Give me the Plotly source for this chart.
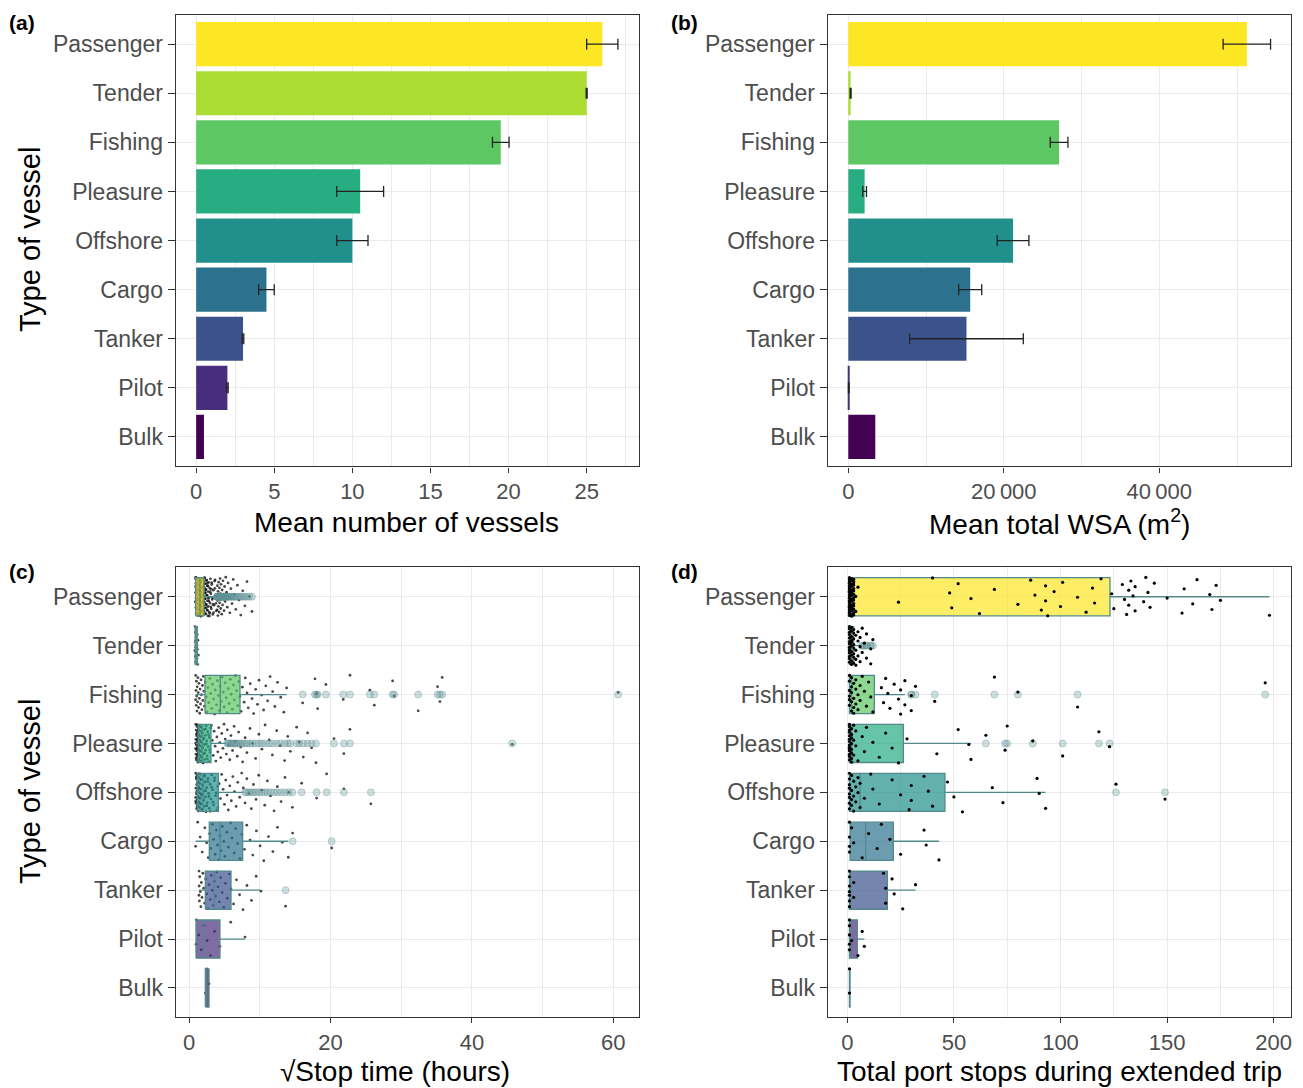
import plotly.graph_objects as go

W, H = 1303, 1088
FONT = "Liberation Sans, Arial, Helvetica, sans-serif"

vessel_types = ["Passenger", "Tender", "Fishing", "Pleasure", "Offshore",
                "Cargo", "Tanker", "Pilot", "Bulk"]
viridis = ["#FDE725", "#AADC32", "#5DC863", "#27AD81", "#21908C",
           "#2C728E", "#3B528B", "#472D7B", "#440154"]

# (a) mean number of vessels present, with standard error (None = no error bar)
mean_vessels = [26.0, 25.0, 19.5, 10.5, 10.0, 4.5, 3.0, 2.0, 0.5]
mean_vessels_se = [1.0, 0.03, 0.53, 1.5, 1.0, 0.5, 0.05, 0.05, None]

# (b) mean total wetted surface area (m2), with standard error
mean_wsa = [51260, 300, 27110, 2100, 21190, 15680, 15200, 60, 3470]
mean_wsa_se = [3050, 60, 1140, 235, 2040, 1480, 7310, 40, None]

# (c) square-root stop time (hours): box statistics per vessel type
stop_q1 = [0.94, 0.86, 2.26, 1.32, 1.18, 2.87, 2.31, 0.99, 2.31]
stop_median = [1.55, 1.0, 4.43, 1.9, 2.0, 4.38, 3.58, 2.12, 2.5]
stop_q3 = [2.12, 1.17, 7.21, 3.11, 4.15, 7.59, 5.94, 4.38, 2.83]
stop_low = [0.9, 0.82, 0.94, 0.94, 0.94, 0.94, 1.41, 0.99, 2.31]
stop_high = [3.9, 1.34, 13.8, 5.3, 7.7, 14.04, 10.18, 7.92, 2.83]

# (c) individual stops (inside the whiskers) and outlying stops
stop_passenger = [
    0.91, 0.93, 0.94, 0.97, 0.99, 1.01, 1.03, 1.06, 1.07, 1.09, 1.12, 1.14, 1.15, 1.18, 1.21, 1.22, 1.24, 1.27, 1.29, 1.31,
    1.33, 1.35, 1.38, 1.39, 1.42, 1.44, 1.46, 1.49, 1.51, 1.53, 1.56, 1.58, 1.6, 1.63, 1.64, 1.67, 1.7, 1.71, 1.74, 1.77,
    1.79, 1.81, 1.84, 1.86, 1.89, 1.92, 1.93, 1.96, 1.99, 2.02, 2.04, 2.07, 2.1, 2.12, 2.15, 2.18, 2.21, 2.23, 2.27, 2.3,
    2.33, 2.36, 2.4, 2.43, 2.47, 2.5, 2.54, 2.57, 2.61, 2.65, 2.69, 2.73, 2.78, 2.82, 2.87, 2.92, 2.97, 3.03, 3.09, 3.15,
    3.22, 3.29, 3.37, 3.45, 3.54, 3.63, 3.74, 3.86,
    0.92, 0.96, 1.0, 1.04, 1.08, 1.11, 1.16, 1.2, 1.25, 1.28, 1.32, 1.37, 1.41, 1.45, 1.5, 1.55, 1.59, 1.65, 1.69, 1.75,
    1.8, 1.85, 1.91, 1.97, 2.03, 2.09, 2.16, 2.22, 2.29, 2.35, 2.42, 2.49, 2.56, 2.63, 2.71, 2.8, 2.89, 2.99, 3.1, 3.21,
    3.34, 3.48, 3.66, 3.81,
    0.95, 1.02, 1.1, 1.17, 1.26, 1.34, 1.43, 1.52, 1.61, 1.72, 1.83, 1.94, 2.05, 2.19, 2.32, 2.45, 2.59, 2.75, 2.94, 3.13,
    3.4, 3.7,
]
stop_passenger_out = [
    3.93, 3.97, 4.01, 4.04, 4.08, 4.11, 4.15, 4.19, 4.22, 4.26, 4.3, 4.34, 4.39, 4.43, 4.48, 4.53, 4.58, 4.63, 4.69, 4.75,
    4.81, 4.88, 4.95, 5.03, 5.11, 5.2, 5.3, 5.41, 5.52, 5.65, 5.78, 5.92, 6.08, 6.25, 6.43, 6.62, 6.84, 7.07, 7.32, 7.6,
    7.9, 8.2, 8.55, 8.9,
]
stop_tender = [0.83, 0.86, 0.88, 0.9, 0.93, 0.95, 0.98, 1.0, 1.03, 1.06, 1.09, 1.12, 1.15, 1.18, 1.22, 1.27, 1.33]
stop_tender_out = []
stop_fishing = [
    0.94, 0.95, 0.98, 1.02, 1.05, 1.09, 1.13, 1.16, 1.21, 1.26, 1.3, 1.35, 1.41, 1.46, 1.52, 1.57, 1.63, 1.7, 1.76, 1.83,
    1.9, 1.96, 2.04, 2.11, 2.19,
    2.31, 2.44, 2.53, 2.68, 2.79, 2.95, 3.06, 3.21, 3.33, 3.47, 3.62, 3.71, 3.88, 4.02, 4.16, 4.27, 4.41, 4.56, 4.69, 4.85,
    4.97, 5.12, 5.26, 5.39, 5.55, 5.68, 5.84, 5.97, 6.13, 6.29, 6.41, 6.58, 6.72, 6.9, 7.06, 7.18,
    7.37, 7.54, 7.79, 7.96, 8.21, 8.38, 8.66, 8.92, 9.14, 9.43, 9.68, 9.9, 10.27, 10.55, 10.86, 11.12, 11.47, 11.83, 12.14,
    12.52, 12.97, 13.41, 13.8,
]
stop_fishing_out = [16.07, 17.81, 18.05, 18.19, 19.36, 21.81, 22.76, 25.58, 26.2, 28.79, 29.03, 32.41,
                    35.15, 35.48, 35.8, 60.68]
stop_pleasure = [
    0.94, 0.95, 0.97, 0.99, 1.01, 1.04, 1.06, 1.08, 1.11, 1.13, 1.16, 1.18, 1.21, 1.23, 1.26, 1.29, 1.31, 1.34, 1.37, 1.4,
    1.43, 1.46, 1.49, 1.52, 1.55, 1.59, 1.62, 1.66, 1.69, 1.73, 1.77, 1.81, 1.85, 1.89, 1.94, 1.98, 2.03, 2.08, 2.13, 2.19,
    2.24, 2.3, 2.36, 2.43, 2.5, 2.57, 2.64, 2.72, 2.8, 2.88, 2.97, 3.06,
    0.96, 1.0, 1.05, 1.1, 1.15, 1.2, 1.25, 1.3, 1.36, 1.42, 1.48, 1.54, 1.61, 1.68, 1.75, 1.83, 1.91, 2.0, 2.1, 2.21,
    2.33, 2.46, 2.6, 2.76, 2.93,
    3.17, 3.3, 3.42, 3.55, 3.69, 3.8, 3.94, 4.07, 4.2, 4.36, 4.49, 4.63, 4.8, 4.95, 5.12, 5.28,
]
stop_pleasure_out = [5.42, 5.58, 5.77, 5.93, 6.16, 6.38, 6.55, 6.83, 7.02, 7.31, 7.58, 7.94, 8.19, 8.63, 8.97, 9.42,
                     9.88, 10.31, 10.76, 11.34, 11.79, 12.41, 12.88, 13.52, 13.97, 14.33, 15.22, 15.6, 16.16, 16.77,
                     17.34, 17.95, 20.5, 21.9, 22.76, 45.7]
stop_offshore = [
    0.94, 0.96, 0.98, 1.0, 1.03, 1.05, 1.08, 1.1, 1.13, 1.16, 1.19, 1.22, 1.25, 1.28, 1.31, 1.35, 1.38, 1.42, 1.46, 1.5,
    1.54, 1.58, 1.63, 1.67, 1.72, 1.77, 1.82, 1.88, 1.93, 1.99, 2.05, 2.12, 2.19, 2.26, 2.33, 2.41, 2.49, 2.58, 2.67, 2.77,
    2.87, 2.98, 3.09, 3.21, 3.34, 3.47, 3.61, 3.76, 3.92, 4.08,
    0.95, 1.01, 1.07, 1.14, 1.21, 1.29, 1.37, 1.45, 1.55, 1.65, 1.75, 1.86, 1.97, 2.09, 2.22, 2.36, 2.51, 2.66, 2.83, 3.01,
    3.2, 3.4, 3.62, 3.85, 4.1,
    4.27, 4.45, 4.62, 4.83, 5.01, 5.19, 5.38, 5.56, 5.77, 5.98, 6.2, 6.43, 6.66, 6.9, 7.17, 7.45, 7.68,
]
stop_offshore_out = [7.93, 8.18, 8.47, 8.81, 9.12, 9.48, 9.86, 10.29, 10.71, 11.08, 11.52, 12.03, 12.49, 13.02,
                     13.57, 14.11, 14.62, 15.93, 18.05, 19.46, 21.9, 25.72]
stop_cargo = [0.94, 1.23, 1.58, 1.87, 2.24, 2.49, 2.73, 2.91, 3.08, 3.32, 3.47, 3.71, 3.86, 4.03, 4.18, 4.37, 4.52,
              4.71, 4.93, 5.08, 5.36, 5.57, 5.88, 6.07, 6.39, 6.62, 6.87, 7.21, 7.48, 7.83, 8.17, 8.64, 9.02, 9.53,
              10.06, 10.58, 11.24, 11.87, 12.52, 13.19, 14.04]
stop_cargo_out = [14.65, 20.17]
stop_tanker = [1.41, 1.42, 1.44, 1.47, 1.52, 1.6, 1.68, 1.75, 1.84, 1.96, 2.08, 2.22, 2.35, 2.51, 2.67, 2.83, 3.0,
               3.14, 3.29, 3.46, 3.58, 3.74, 3.92, 4.1, 4.29, 4.48, 4.69, 4.92, 5.16, 5.43, 5.71, 5.94, 6.3, 6.72,
               7.15, 7.63, 8.2, 8.84, 9.5, 10.18]
stop_tanker_out = [13.66]
stop_pilot = [0.99, 1.04, 1.38, 1.72, 2.12, 2.55, 3.04, 3.61, 4.38, 5.9, 7.92]
stop_pilot_out = []
stop_bulk = [2.31, 2.5, 2.83]
stop_bulk_out = []

# (d) total port stops during extended trip: box statistics per vessel type
ports_q1 = [1, 1, 1, 1, 1, 1.3, 1, 1, 1]
ports_median = [3, 2, 2, 2, 6, 8.6, 1.2, 1.3, 1]
ports_q3 = [123.2, 3, 12.7, 26.3, 45.8, 21.6, 18.8, 4.7, 1.3]
ports_low = [1, 1, 1, 1, 1, 1, 1, 1, 1]
ports_high = [198, 6, 27, 58, 93, 43, 32, 8, 1.3]

# (d) individual trips (inside the whiskers) and outlying trips
ports_passenger = [
    1, 1, 1, 1, 1, 1, 1, 1, 1, 1, 1, 1, 1, 1, 1, 1, 1, 1, 1, 1, 1, 1,
    2, 2, 2, 2, 2, 2, 2, 2, 2, 2, 2, 2, 2, 2, 2, 2,
    3, 3, 3, 3, 3, 3, 3, 3, 3, 3, 3, 3, 3, 3,
    4, 4, 5, 24, 40, 48, 49, 52, 58, 62, 69, 80, 86, 88, 91, 93, 93, 94, 97, 100, 101, 108, 112, 115, 116, 119,
    124, 125, 129, 130, 131, 132, 132, 133, 134, 135, 135, 139, 140, 141, 142, 144, 150, 157, 158, 162, 164,
    170, 171, 173, 175, 198,
]
ports_passenger_out = []
ports_tender = [1, 1, 1, 1, 1, 1, 1, 1, 1, 1, 1, 1, 1, 1, 2, 2, 2, 2, 2, 2, 2, 2, 2, 2,
                3, 3, 3, 3, 3, 3, 3, 3, 4, 4, 4, 4, 5, 5, 5, 6, 6, 6]
ports_tender_out = [7, 7, 8, 9, 9, 11, 11, 12]
ports_fishing = [1, 1, 1, 1, 1, 1, 2, 2, 2, 2, 2, 3, 3, 3, 3, 4, 4, 4, 5, 5, 6, 6, 7, 8, 9, 10, 11, 12,
                 16, 17, 18, 19, 20, 22, 24, 25, 25, 27, 27]
ports_fishing_out = [30, 30, 32, 41, 69, 80, 108, 196]
ports_pleasure = [1, 1, 1, 1, 1, 1, 1, 1, 1, 1, 1, 1, 1, 1, 2, 2, 2, 2, 2, 2, 2, 2, 3, 3, 3, 4, 4,
                  5, 7, 8, 9, 12, 15, 18, 21, 24, 28, 42, 52, 57, 58]
ports_pleasure_out = [65, 74, 75, 87, 101, 118, 123]
ports_offshore = [1, 1, 1, 1, 1, 1, 1, 1, 2, 2, 2, 2, 3, 3, 3, 4, 4, 5, 5, 6, 6, 8, 11, 12, 15, 21, 25, 29, 30, 30,
                  36, 38, 40, 47, 50, 54, 68, 73, 89, 90, 93]
ports_offshore_out = [126, 149]
ports_cargo = [1, 1, 1, 1, 2, 3, 7, 10, 14, 16, 20, 25, 36, 37, 43]
ports_cargo_out = []
ports_tanker = [1, 1, 1, 1, 1, 1, 1, 3, 3, 17, 18, 18, 21, 22, 26, 32]
ports_tanker_out = []
ports_pilot = [1, 1, 1, 1, 1, 2, 5, 7, 8]
ports_pilot_out = []
ports_bulk = [1, 1]
ports_bulk_out = []

stop_inliers = [stop_passenger, stop_tender, stop_fishing, stop_pleasure, stop_offshore,
                stop_cargo, stop_tanker, stop_pilot, stop_bulk]
stop_outliers = [stop_passenger_out, stop_tender_out, stop_fishing_out, stop_pleasure_out, stop_offshore_out,
                 stop_cargo_out, stop_tanker_out, stop_pilot_out, stop_bulk_out]
ports_inliers = [ports_passenger, ports_tender, ports_fishing, ports_pleasure, ports_offshore,
                 ports_cargo, ports_tanker, ports_pilot, ports_bulk]
ports_outliers = [ports_passenger_out, ports_tender_out, ports_fishing_out, ports_pleasure_out, ports_offshore_out,
                  ports_cargo_out, ports_tanker_out, ports_pilot_out, ports_bulk_out]

# ---- styling ----
n_types = len(vessel_types)
positions = [n_types - i for i in range(n_types)]  # Passenger on top
BOX_LINE = "#52898c"
OUTLIER_FILL = "rgba(96,146,150,0.30)"
OUTLIER_EDGE = "rgba(96,146,150,0.45)"
BOX_HALF = 0.39
GRID = "#ebebeb"
AXIS = "#333333"
TICK_TEXT = "#4d4d4d"


def rgba(hex_color, alpha):
    h = hex_color.lstrip("#")
    r, g, b = int(h[0:2], 16), int(h[2:4], 16), int(h[4:6], 16)
    return f"rgba({r},{g},{b},{alpha})"


def jitter_offsets(n, spread=0.4):
    # deterministic vertical spread of points within a category band
    return [((k * 0.6180339887 + 0.37) % 1.0 - 0.5) * 2 * spread for k in range(n)]


def error_trace(means, errors, xaxis, yaxis):
    # error bars only where a standard error exists
    xs = [m if e is not None else None for m, e in zip(means, errors)]
    es = [e if e is not None else 0 for e in errors]
    return go.Scatter(
        x=xs, y=positions, mode="markers", marker=dict(size=0.1, opacity=0),
        error_x=dict(type="data", array=es, color="#222222", thickness=1.3, width=5.5),
        xaxis=xaxis, yaxis=yaxis, hoverinfo="skip", showlegend=False)


fig = go.Figure()

# ---- (a) bars ----
fig.add_trace(go.Bar(
    x=mean_vessels, y=positions, orientation="h", width=0.9,
    marker=dict(color=viridis, line=dict(width=0)),
    xaxis="x", yaxis="y", hoverinfo="skip", showlegend=False))
fig.add_trace(error_trace(mean_vessels, mean_vessels_se, "x", "y"))

# ---- (b) bars ----
fig.add_trace(go.Bar(
    x=mean_wsa, y=positions, orientation="h", width=0.9,
    marker=dict(color=viridis, line=dict(width=0)),
    xaxis="x2", yaxis="y2", hoverinfo="skip", showlegend=False))
fig.add_trace(error_trace(mean_wsa, mean_wsa_se, "x2", "y2"))

# ---- (c) jittered stops underneath translucent boxes ----
for i in range(n_types):
    vals = stop_inliers[i] + stop_outliers[i]
    offs = jitter_offsets(len(vals))
    fig.add_trace(go.Scatter(
        x=vals, y=[positions[i] + o for o in offs], mode="markers",
        marker=dict(size=2.8, color="rgba(0,0,0,0.72)", line=dict(width=0)),
        xaxis="x3", yaxis="y3", hoverinfo="skip", showlegend=False))

for i in range(n_types):
    p = positions[i]
    q1, md, q3, lo, hi = stop_q1[i], stop_median[i], stop_q3[i], stop_low[i], stop_high[i]
    xs = [q1, q3, q3, q1, q1, None, md, md, None, lo, q1, None, q3, hi]
    ys = [p - BOX_HALF, p - BOX_HALF, p + BOX_HALF, p + BOX_HALF, p - BOX_HALF, None,
          p - BOX_HALF, p + BOX_HALF, None, p, p, None, p, p]
    fig.add_trace(go.Scatter(
        x=xs, y=ys, mode="lines", fill="toself", fillcolor=rgba(viridis[i], 0.7),
        line=dict(color=BOX_LINE, width=1.3),
        xaxis="x3", yaxis="y3", hoverinfo="skip", showlegend=False))

for i in range(n_types):
    if stop_outliers[i]:
        fig.add_trace(go.Scatter(
            x=stop_outliers[i], y=[positions[i]] * len(stop_outliers[i]), mode="markers",
            marker=dict(size=7, color=OUTLIER_FILL, line=dict(width=0.8, color=OUTLIER_EDGE)),
            xaxis="x3", yaxis="y3", hoverinfo="skip", showlegend=False))

# ---- (d) boxes with jittered trips on top ----
for i in range(n_types):
    fig.add_trace(go.Box(
        y=[positions[i]], q1=[ports_q1[i]], median=[ports_median[i]], q3=[ports_q3[i]],
        lowerfence=[ports_low[i]], upperfence=[ports_high[i]],
        orientation="h", width=2 * BOX_HALF, whiskerwidth=0, boxpoints=False,
        fillcolor=rgba(viridis[i], 0.7), line=dict(color=BOX_LINE, width=1.3),
        xaxis="x4", yaxis="y4", hoverinfo="skip", showlegend=False))

for i in range(n_types):
    if ports_outliers[i]:
        fig.add_trace(go.Scatter(
            x=ports_outliers[i], y=[positions[i]] * len(ports_outliers[i]), mode="markers",
            marker=dict(size=7, color=OUTLIER_FILL, line=dict(width=0.8, color=OUTLIER_EDGE)),
            xaxis="x4", yaxis="y4", hoverinfo="skip", showlegend=False))

for i in range(n_types):
    vals = ports_inliers[i] + ports_outliers[i]
    offs = jitter_offsets(len(vals))
    fig.add_trace(go.Scatter(
        x=vals, y=[positions[i] + o for o in offs], mode="markers",
        marker=dict(size=3.2, color="#000000", line=dict(width=0)),
        xaxis="x4", yaxis="y4", hoverinfo="skip", showlegend=False))

# ---- axes ----
panels = {
    "a": dict(x=(175.7, 639.0), y=(14.7, 466.4)),
    "b": dict(x=(827.7, 1291.0), y=(14.7, 466.4)),
    "c": dict(x=(175.7, 639.0), y=(567.4, 1017.3)),
    "d": dict(x=(827.7, 1291.0), y=(567.4, 1017.3)),
}


def x_axis(panel, rng, tickvals, ticktext, minor_dtick, anchor):
    x0, x1 = panels[panel]["x"]
    return dict(
        domain=[x0 / W, x1 / W], range=rng, anchor=anchor,
        tickmode="array", tickvals=tickvals, ticktext=ticktext,
        showgrid=True, gridcolor=GRID, gridwidth=1.3,
        minor=dict(tickmode="linear", tick0=0, dtick=minor_dtick, showgrid=True,
                   gridcolor=GRID, gridwidth=0.7, ticklen=0),
        ticks="outside", ticklen=5, tickwidth=1.2, tickcolor=AXIS,
        tickfont=dict(family=FONT, size=22, color=TICK_TEXT),
        showline=True, linecolor=AXIS, linewidth=1.3, mirror=True, zeroline=False)


def y_axis(panel, anchor):
    y0, y1 = panels[panel]["y"]
    return dict(
        domain=[1 - y1 / H, 1 - y0 / H], range=[0.4, n_types + 0.6], anchor=anchor,
        tickmode="array", tickvals=positions, ticktext=vessel_types,
        showgrid=True, gridcolor=GRID, gridwidth=1.3,
        ticks="outside", ticklen=7, tickwidth=1.2, tickcolor=AXIS,
        tickfont=dict(family=FONT, size=23, color=TICK_TEXT),
        showline=True, linecolor=AXIS, linewidth=1.3, mirror=True, zeroline=False)


fig.update_layout(
    xaxis=x_axis("a", [-1.31, 28.35], [0, 5, 10, 15, 20, 25], ["0", "5", "10", "15", "20", "25"], 2.5, "y"),
    yaxis=y_axis("a", "x"),
    xaxis2=x_axis("b", [-2650, 56940], [0, 20000, 40000], ["0", "20\u2009000", "40\u2009000"], 10000, "y2"),
    yaxis2=y_axis("b", "x2"),
    xaxis3=x_axis("c", [-1.88, 63.63], [0, 20, 40, 60], ["0", "20", "40", "60"], 10, "y3"),
    yaxis3=y_axis("c", "x3"),
    xaxis4=x_axis("d", [-9.19, 208.1], [0, 50, 100, 150, 200], ["0", "50", "100", "150", "200"], 25, "y4"),
    yaxis4=y_axis("d", "x4"),
)


def note(text, x_px, y_px, size, bold=False, angle=0, xanchor="center", color="#000000"):
    return dict(
        text=f"<b>{text}</b>" if bold else text,
        x=x_px / W, y=1 - y_px / H, xref="paper", yref="paper",
        xanchor=xanchor, yanchor="middle", showarrow=False, textangle=angle,
        font=dict(family=FONT, size=size, color=color))


annotations = [
    note("(a)", 7, 22, 21, bold=True, xanchor="left"),
    note("(b)", 669, 22, 21, bold=True, xanchor="left"),
    note("(c)", 7, 571, 21, bold=True, xanchor="left"),
    note("(d)", 669, 571, 21, bold=True, xanchor="left"),
    note("Mean number of vessels", 406, 522, 28),
    note("Mean total WSA (m<sup>2</sup>)", 1059, 522, 28),
    note("\u221aStop time (hours)", 395, 1071, 28),
    note("Total port stops during extended trip", 1059, 1071, 28),
    note("Type of vessel", 30, 240, 29, angle=-90),
    note("Type of vessel", 30, 792, 29, angle=-90),
]

fig.update_layout(
    width=W, height=H, margin=dict(l=0, r=0, t=0, b=0),
    paper_bgcolor="white", plot_bgcolor="white",
    showlegend=False, font=dict(family=FONT),
    annotations=annotations,
)

fig.write_html("out.html")
